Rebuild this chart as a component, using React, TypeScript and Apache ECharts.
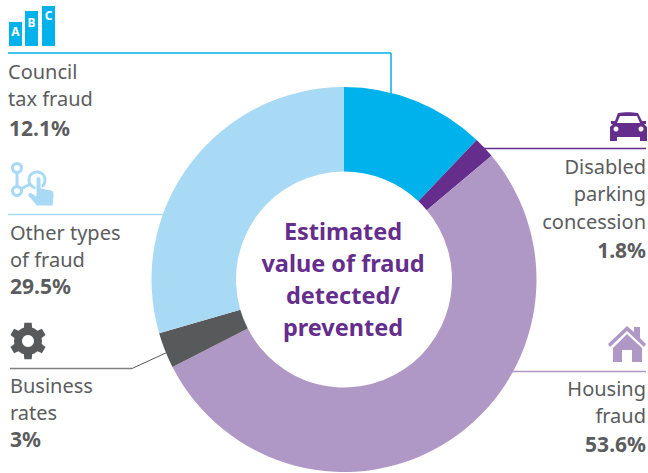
import React, { useEffect, useRef } from "react";
import * as echarts from "echarts";

const categories = ["Council tax fraud", "Disabled parking concession", "Housing fraud", "Business rates", "Other types of fraud"];
const values = [12.1, 1.8, 53.6, 3, 29.5];
const colours = ["#00B2EC", "#652D8C", "#B098C6", "#58595B", "#A9DAF5"];
const centreLines = ["Estimated", "value of fraud", "detected/", "prevented"];
const FONT = "'Noto Sans', sans-serif";
const GREY = "#5b5c5e";

const gearPts = () => {
  const pts: number[][] = [];
  for (let i = 0; i < 6; i++) {
    const a = (i * Math.PI) / 3 - Math.PI / 2;
    const p = (r: number, d: number) => [r * Math.cos(a + d), r * Math.sin(a + d)];
    pts.push(p(14, -0.52), p(14, -0.3), p(18.5, -0.2), p(18.5, 0.2), p(14, 0.3), p(14, 0.52));
  }
  return pts;
};

const label = (x: number, y: number, text: string, right: boolean, bold = false) => ({
  type: "text", x, y: y - (bold ? 19 : 18), silent: true,
  style: { text, fill: GREY, font: `${bold ? "bold 21px" : "20px"} ${FONT}`, textAlign: right ? "right" : "left", textVerticalAlign: "top" },
});
const seg = (x1: number, y1: number, x2: number, y2: number, stroke: string, lineWidth = 1.5) => ({
  type: "line", silent: true, z: 1, shape: { x1, y1, x2, y2 }, style: { stroke, lineWidth },
});

export default function App() {
  const ref = useRef<HTMLDivElement>(null);
  useEffect(() => {
    document.body.style.margin = "0";
    echarts.graphic.registerShape("car", echarts.graphic.extendPath(
      "M8 1C14 0 22 0 28 1L32 9L36 9L36 12L34 12L37 15L37 29L30 29L30 25L7 25L7 29L0 29L0 15L3 12L1 12L1 9L5 9Z", {}));
    echarts.graphic.registerShape("hand", echarts.graphic.extendPath(
      "M9 3C9 0 14 0 14 3L14 12L24 14C27 15 27 17 27 20L26 30L10 30L1 20C0 17 3 16 5 17L9 20Z", {}));
    const chart = echarts.init(ref.current!, undefined, { renderer: "svg" });
    chart.setOption({
      animation: false,
      series: [{
        type: "pie", center: [344, 279.5], radius: [108, 192.5], startAngle: 90, clockwise: true,
        label: { show: false }, labelLine: { show: false }, silent: true, z: 5,
        data: categories.map((name, i) => ({ name, value: values[i], itemStyle: { color: colours[i] } })),
      }],
      graphic: [
        seg(8, 53, 391, 53, colours[0]), seg(391, 53, 391, 95, colours[0]),
        seg(8, 214.5, 170, 214.5, colours[4]),
        seg(10, 368.5, 132, 368.5, "#808183"), seg(132, 368.5, 170, 351, "#58595B", 1),
        seg(482, 148.5, 646, 148.5, colours[1]),
        seg(510, 371.5, 646, 371.5, colours[2]),
        ...centreLines.map((t, i) => ({
          type: "text", x: 343, y: 219 + i * 32, z: 10, silent: true,
          style: { text: t, fill: "#652D8C", font: `bold 23.5px ${FONT}`, textAlign: "center", textVerticalAlign: "top" },
        })),
        label(8, 79, "Council", false), label(8, 106, "tax fraud", false), label(9, 136, "12.1%", false, true),
        label(10, 240, "Other types", false), label(10, 267, "of fraud", false), label(10, 294, "29.5%", false, true),
        label(10, 393, "Business", false), label(10, 420, "rates", false), label(10, 447, "3%", false, true),
        label(646, 174, "Disabled", true), label(646, 201, "parking", true), label(646, 229, "concession", true), label(646, 258, "1.8%", true, true),
        label(646, 396, "Housing", true), label(646, 423, "fraud", true), label(646, 452, "53.6%", true, true),
        // ABC icon
        ...[[9, 22, 13, 24, "A", 31], [25, 11, 13, 35, "B", 22], [42, 6, 13, 40, "C", 15]].flatMap(([x, y, w, h, t, ty]: any) => [
          { type: "rect", silent: true, shape: { x, y, width: w, height: h }, style: { fill: colours[0] } },
          { type: "text", silent: true, x: x + w / 2, y: ty, style: { text: t, fill: "#fff", font: `bold 12px ${FONT}`, textAlign: "center", textVerticalAlign: "middle" } },
        ]),
        // network + hand icon
        { type: "circle", silent: true, shape: { cx: 17, cy: 168, r: 4.5 }, style: { fill: "none", stroke: colours[4], lineWidth: 3 } },
        { type: "circle", silent: true, shape: { cx: 17, cy: 191, r: 4.5 }, style: { fill: "none", stroke: colours[4], lineWidth: 3 } },
        { type: "circle", silent: true, shape: { cx: 37, cy: 180, r: 8 }, style: { fill: "none", stroke: colours[4], lineWidth: 3 } },
        seg(17, 173, 17, 186, colours[4], 3), seg(21, 189, 30, 184, colours[4], 3),
        { type: "hand", silent: true, x: 27, y: 176, style: { fill: colours[4], stroke: "#fff", lineWidth: 1 } },
        // gear
        { type: "group", x: 28, y: 341, children: [
          { type: "polygon", silent: true, shape: { points: gearPts() }, style: { fill: "#58595B" } },
          { type: "circle", silent: true, shape: { cx: 0, cy: 0, r: 6 }, style: { fill: "#fff" } },
        ] },
        // car
        { type: "group", x: 610, y: 112, children: [
          { type: "car", silent: true, style: { fill: colours[1] } },
          { type: "polygon", silent: true, shape: { points: [[10, 4], [27, 4], [30, 11], [7, 11]] }, style: { fill: "#fff" } },
          { type: "circle", silent: true, shape: { cx: 6, cy: 17, r: 2.5 }, style: { fill: "#fff" } },
          { type: "circle", silent: true, shape: { cx: 31, cy: 17, r: 2.5 }, style: { fill: "#fff" } },
        ] },
        // house
        { type: "group", x: 608, y: 326, children: [
          { type: "polygon", silent: true, shape: { points: [[19, 8], [34, 22], [34, 36], [24, 36], [24, 24], [14, 24], [14, 36], [5, 36], [5, 22]] }, style: { fill: colours[2] } },
          { type: "polygon", silent: true, shape: { points: [[19, 0], [26, 6], [26, 1], [32, 1], [32, 12], [38, 18], [36, 21], [19, 5], [2, 21], [0, 18]] }, style: { fill: colours[2] } },
        ] },
      ],
    });
    return () => chart.dispose();
  }, []);
  return <div ref={ref} style={{ width: 648, height: 473, position: "absolute", left: 0, top: 0 }} />;
}
